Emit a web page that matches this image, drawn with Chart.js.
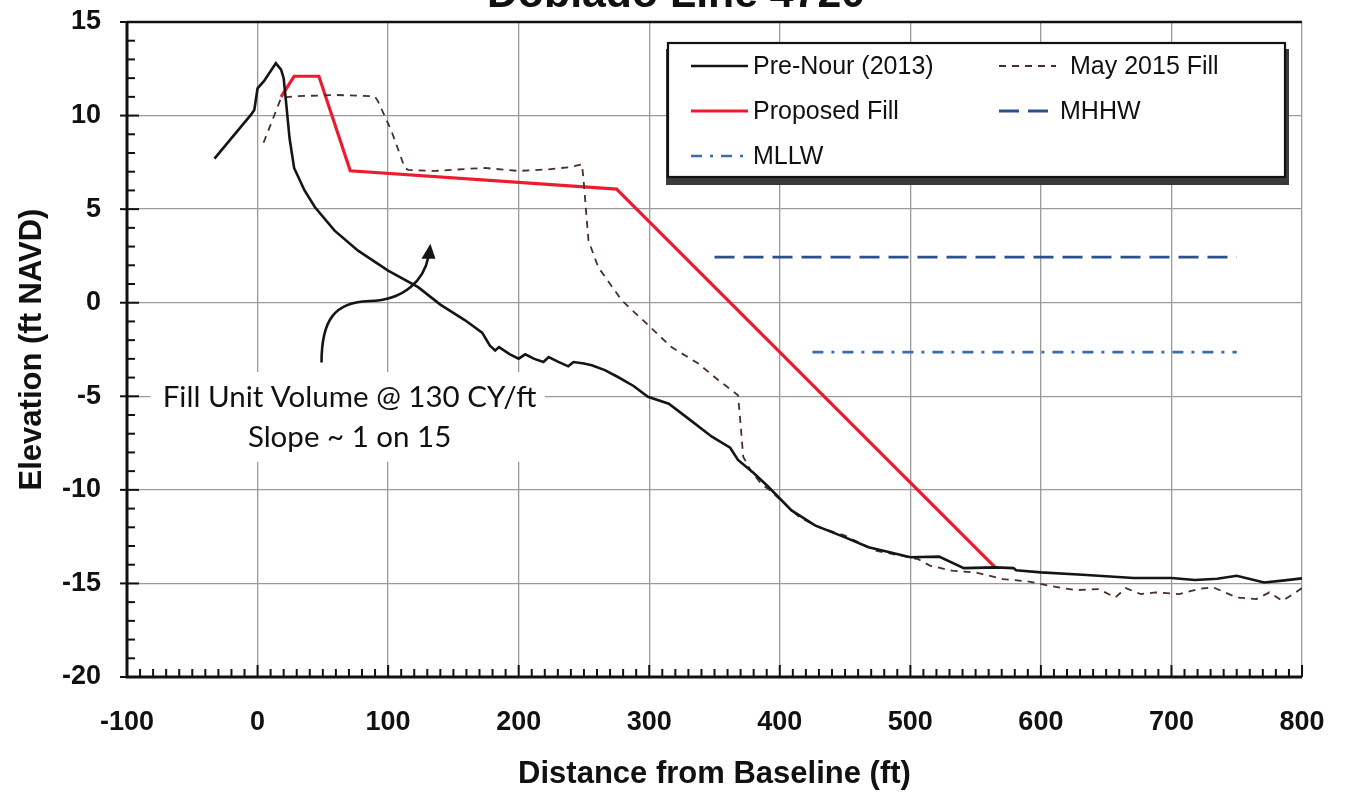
<!DOCTYPE html>
<html><head><meta charset="utf-8">
<script src="https://cdn.jsdelivr.net/npm/chart.js@4.4.1/dist/chart.umd.min.js"></script>
<style>html,body{margin:0;padding:0;background:#fff;overflow:hidden}#wrap{position:relative;width:1347px;height:802px}</style>
</head><body><div id="wrap"><canvas id="c" width="1347" height="802"></canvas></div>
<script>
const titleText = 'Dobiado Line 4720';
const xTicks = [-100, 0, 100, 200, 300, 400, 500, 600, 700, 800];
const yTicks = [-20, -15, -10, -5, 0, 5, 10, 15];

const preNourX = [-33, -5, -2.5, 0, 5, 14, 18, 20, 22, 24.5, 28, 36, 44, 59, 77, 100, 123, 140, 159, 172, 178, 182, 185, 193, 200, 205, 212, 219, 223, 230, 238, 242, 250, 256, 266, 276, 288, 299, 315, 332, 348, 362, 368, 380, 391, 409, 427, 450, 468, 485, 500, 522, 541, 565, 579, 581, 600, 632, 671, 700, 718, 735, 750, 771, 785, 800];
const preNourY = [7.7, 10.05, 10.3, 11.45, 11.85, 12.8, 12.45, 12.0, 10.6, 8.8, 7.2, 6.0, 5.1, 3.85, 2.78, 1.72, 0.83, -0.1, -0.94, -1.6, -2.3, -2.55, -2.37, -2.75, -2.99, -2.76, -3.0, -3.17, -2.9, -3.15, -3.4, -3.17, -3.25, -3.34, -3.6, -3.97, -4.45, -5.03, -5.4, -6.3, -7.16, -7.75, -8.4, -9.1, -9.82, -11.1, -11.9, -12.54, -13.07, -13.35, -13.6, -13.57, -14.18, -14.14, -14.18, -14.3, -14.41, -14.54, -14.71, -14.71, -14.82, -14.75, -14.59, -14.95, -14.85, -14.73];

const may2015X = [4.6, 18, 28, 60, 89.7, 92.3, 102.6, 112.8, 115.4, 136, 160, 174, 200, 223, 240, 248.5, 250, 252, 253.5, 261, 279, 299.4, 317, 337.6, 353, 368, 369.5, 372, 378, 386, 392, 415, 430, 450, 473.5, 506, 515, 532, 550, 571, 591, 606, 626.5, 644, 657, 665, 676.5, 688, 706, 720.6, 732, 750, 765, 775, 785, 797, 800];
const may2015Y = [8.55, 10.94, 11.03, 11.1, 11.03, 10.76, 9.17, 7.2, 7.1, 7.04, 7.15, 7.2, 7.04, 7.13, 7.25, 7.4, 6.33, 4.56, 3.31, 1.89, 0.12, -1.21, -2.37, -3.25, -4.14, -4.94, -6.1, -8.23, -9.0, -9.7, -10.0, -11.46, -12.0, -12.45, -13.25, -13.7, -14.05, -14.32, -14.41, -14.77, -14.9, -15.12, -15.36, -15.3, -15.75, -15.25, -15.57, -15.48, -15.57, -15.3, -15.21, -15.75, -15.84, -15.48, -15.93, -15.39, -15.25];

const proposedX = [18, 28, 47, 71, 275, 565];
const proposedY = [11.0, 12.1, 12.1, 7.05, 6.07, -14.14];

const mhhwX = [350, 750];
const mhhwY = [2.44, 2.44];
const mllwX = [425, 750];
const mllwY = [-2.64, -2.64];

const seriesLabels = ['Pre-Nour (2013)', 'May 2015 Fill', 'Proposed Fill', 'MHHW', 'MLLW'];
const noteLines = ['Fill Unit Volume @ 130 CY/ft', 'Slope ~ 1 on 15'];

const pts = (xs, ys) => xs.map((x, i) => ({x: x, y: ys[i]}));
const F = "'Liberation Sans', Arial, sans-serif";

const data = {
  datasets: [
    {label: seriesLabels[0], data: pts(preNourX, preNourY), borderColor: '#151515', borderWidth: 2.6, borderDash: []},
    {label: seriesLabels[1], data: pts(may2015X, may2015Y), borderColor: '#4a2e28', borderWidth: 1.8, borderDash: [7, 6]},
    {label: seriesLabels[2], data: pts(proposedX, proposedY), borderColor: '#ec1c2e', borderWidth: 3.2, borderDash: []},
    {label: seriesLabels[3], data: pts(mhhwX, mhhwY), borderColor: '#2c4f8f', borderWidth: 2.8, borderDash: [20, 9]},
    {label: seriesLabels[4], data: pts(mllwX, mllwY), borderColor: '#3a6bb5', borderWidth: 2.6, borderDash: [11, 8, 3, 8]}
  ].map(d => Object.assign(d, {showLine: true, pointRadius: 0, fill: false, tension: 0}))
};

const decor = {
  id: 'decor',
  beforeDatasetsDraw(chart) {
    const {ctx, scales: {x, y}} = chart;
    ctx.save();
    const l = x.getPixelForValue(-82), r = x.getPixelForValue(220);
    const t = y.getPixelForValue(-3.7), b = y.getPixelForValue(-8.5);
    ctx.fillStyle = '#fff';
    ctx.fillRect(l, t, r - l, b - t);
    ctx.restore();
  },
  afterDraw(chart) {
    const {ctx, chartArea: a, scales: {x, y}} = chart;
    ctx.save();
    ctx.fillStyle = '#111';
    ctx.textAlign = 'center';
    ctx.textBaseline = 'alphabetic';
    ctx.font = 'bold 32px ' + F;
    let w = ctx.measureText(titleText).width;
    let fs = 32 * 378 / w;
    ctx.font = 'bold ' + fs.toFixed(1) + 'px ' + F;
    ctx.fillText(titleText, 676, 7);

    ctx.strokeStyle = '#111';
    ctx.lineWidth = 3;
    ctx.beginPath();
    ctx.moveTo(a.left, a.top); ctx.lineTo(a.left, a.bottom); ctx.lineTo(a.right, a.bottom);
    ctx.stroke();
    ctx.lineWidth = 2.5;
    ctx.beginPath(); ctx.moveTo(a.left, a.top); ctx.lineTo(a.right, a.top); ctx.stroke();

    ctx.lineWidth = 2;
    for (let v = -100; v <= 800; v += 10) {
      const px = x.getPixelForValue(v);
      const major = v % 100 === 0;
      ctx.beginPath(); ctx.moveTo(px, a.bottom); ctx.lineTo(px, a.bottom - (major ? 12 : 8)); ctx.stroke();
    }
    for (let v = -20; v <= 15; v += 1) {
      const py = y.getPixelForValue(v);
      const major = v % 5 === 0;
      ctx.beginPath(); ctx.moveTo(a.left - (major ? 7 : 0), py); ctx.lineTo(a.left + (major ? 12 : 8), py); ctx.stroke();
    }

    ctx.fillStyle = '#111';
    ctx.font = "29.5px Lato, 'Open Sans', sans-serif";
    ctx.textAlign = 'center';
    ctx.textBaseline = 'middle';
    const nx = x.getPixelForValue(70.5);
    ctx.fillText(noteLines[0], nx, y.getPixelForValue(-5.04));
    ctx.fillText(noteLines[1], nx, y.getPixelForValue(-7.18));

    const P = (vx, vy) => [x.getPixelForValue(vx), y.getPixelForValue(vy)];
    const s = P(49, -3.2), c1 = P(49, -0.9), c2 = P(59, 0.03), m = P(85.7, 0.09);
    const c3 = P(112.5, 0.14), c4 = P(127.5, 1.2), e = P(131, 2.5), tip = P(132.4, 3.15);
    ctx.strokeStyle = '#151515';
    ctx.lineWidth = 2.6;
    ctx.beginPath();
    ctx.moveTo(s[0], s[1]);
    ctx.bezierCurveTo(c1[0], c1[1], c2[0], c2[1], m[0], m[1]);
    ctx.bezierCurveTo(c3[0], c3[1], c4[0], c4[1], e[0], e[1]);
    ctx.stroke();
    ctx.fillStyle = '#151515';
    ctx.beginPath();
    ctx.moveTo(tip[0], tip[1]);
    ctx.lineTo(tip[0] - 9, tip[1] + 15);
    ctx.lineTo(tip[0] + 5, tip[1] + 15);
    ctx.closePath();
    ctx.fill();

    const L = 668, T = 43, R = 1285, B = 177;
    ctx.fillStyle = '#3a3a3a';
    ctx.fillRect(L - 2, T + 6, R - L + 6, B - T + 2);
    ctx.fillStyle = '#fff';
    ctx.fillRect(L, T, R - L, B - T);
    ctx.strokeStyle = '#111';
    ctx.lineWidth = 2.2;
    ctx.strokeRect(L, T, R - L, B - T);
    const slots = [
      {sx: 691, ex: 748, tx: 753, ty: 66},
      {sx: 999, ex: 1056, tx: 1070, ty: 66},
      {sx: 691, ex: 748, tx: 753, ty: 111},
      {sx: 999, ex: 1052, tx: 1060, ty: 111},
      {sx: 691, ex: 743, tx: 753, ty: 156}
    ];
    ctx.font = '25px ' + F;
    ctx.textAlign = 'left';
    ctx.textBaseline = 'middle';
    chart.data.datasets.forEach((d, i) => {
      const sl = slots[i];
      ctx.strokeStyle = d.borderColor;
      ctx.lineWidth = d.borderWidth;
      ctx.setLineDash(d.borderDash || []);
      ctx.beginPath(); ctx.moveTo(sl.sx, sl.ty); ctx.lineTo(sl.ex, sl.ty); ctx.stroke();
      ctx.setLineDash([]);
      ctx.fillStyle = '#111';
      ctx.fillText(d.label, sl.tx, sl.ty + 1);
    });
    ctx.restore();
  }
};

new Chart(document.getElementById('c'), {
  type: 'scatter',
  data: data,
  options: {
    responsive: false,
    devicePixelRatio: 1,
    animation: false,
    layout: {padding: {top: 22, right: 45, left: 0, bottom: 0}},
    plugins: {legend: {display: false}, tooltip: {enabled: false}, title: {display: false}},
    elements: {line: {borderCapStyle: 'butt'}},
    scales: {
      x: {
        type: 'linear', min: -100, max: 800,
        afterBuildTicks: s => { s.ticks = xTicks.map(v => ({value: v})); },
        afterFit: s => { s.height = 125; s.paddingLeft = 0; s.paddingRight = 0; },
        grid: {color: '#9a9a9a', lineWidth: 1.3, drawTicks: false},
        border: {display: false},
        ticks: {padding: 29, color: '#111', font: {family: F, size: 27, weight: 'bold'}, maxRotation: 0},
        title: {display: true, text: 'Distance from Baseline (ft)', color: '#111', font: {family: F, size: 31, weight: 'bold'}, padding: {top: 0, bottom: 9}}
      },
      y: {
        type: 'linear', min: -20, max: 15,
        afterBuildTicks: s => { s.ticks = yTicks.map(v => ({value: v})); },
        afterFit: s => { s.width = 127; s.paddingTop = 0; s.paddingBottom = 0; },
        grid: {color: '#9a9a9a', lineWidth: 1.3, drawTicks: false},
        border: {display: false},
        ticks: {padding: 26, color: '#111', font: {family: F, size: 27, weight: 'bold'}},
        title: {display: true, text: 'Elevation (ft NAVD)', color: '#111', font: {family: F, size: 31, weight: 'bold'}, padding: {top: 14, bottom: 0}}
      }
    }
  },
  plugins: [decor]
});
</script>
</body></html>
